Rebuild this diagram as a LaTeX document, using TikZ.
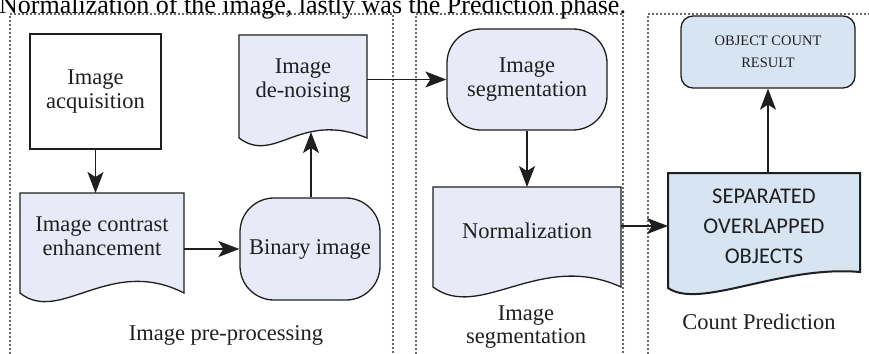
\documentclass[tikz,border=0pt]{standalone}
\usepackage{fontspec}
\setmainfont{Liberation Serif}
\newfontfamily\calib{Carlito}
\usetikzlibrary{arrows.meta}
\definecolor{lb}{HTML}{E8EBF7}
\definecolor{lbb}{HTML}{D7E4F2}
\definecolor{ink}{HTML}{1F1F1F}
\begin{document}
\begin{tikzpicture}[x=1pt,y=-1pt,
  frame/.style={draw=ink!90, line width=2.2pt, dash pattern=on 0pt off 4pt, line cap=round},
  nt/.style={font=\fontsize{22.5}{24}\selectfont, align=center, text=ink, inner sep=0pt},
  plainbox/.style={nt, rectangle, draw=ink, line width=1.3pt, fill=white},
  roundbox/.style={nt, rectangle, rounded corners=34pt, draw=ink, line width=1.3pt, fill=lb},
  docarea/.style={rectangle, inner sep=0pt, outer sep=0pt},
  docpath/.style={draw=ink, line width=1.3pt, fill=lb},
  arr/.style={draw=ink, line width=1.3pt, -{Stealth[length=21pt,width=16pt,inset=5pt]}},
]
\useasboundingbox (0,0) rectangle (869,353);
\clip (0,0) rectangle (869,353);
\fill[white] (0,0) rectangle (869,353);

% caption line cut at top
\node[anchor=base west, font=\fontsize{26}{28}\selectfont, inner sep=0pt, text=black] (cap) at (-1,13.5)
  {Normalization of the image, lastly was the Prediction phase.};

% dotted frames
\draw[frame] (10,365) -- (10,14) -- (393,14) -- (393,365);
\draw[frame] (416,365) -- (416,14) -- (623,14) -- (623,365);
\draw[frame] (648,365) -- (648,14) -- (880,14);

% plain and rounded boxes
\node[plainbox, minimum width=131pt, minimum height=115pt] (acq) at (95.5,91.5) {Image\\acquisition};
\node[roundbox, minimum width=140pt, minimum height=102pt] (bin) at (310,249) {Binary image};
\node[roundbox, minimum width=160pt, minimum height=101pt] (seg) at (527,79.5) {Image\\segmentation};
\node[rectangle, rounded corners=12pt, draw=ink, line width=1.3pt, fill=lbb, inner sep=0pt,
      minimum width=174pt, minimum height=72pt, align=center, text=ink,
      font=\fontsize{14.5}{22}\selectfont] (obj) at (768,52) {OBJECT COUNT\\RESULT};

% document shapes
\node[docarea, minimum width=128pt, minimum height=103pt] (den) at (303,86.5) {};
\path[docpath] (den.north west) -- (den.north east) -- (den.south east)
  .. controls (300,110) and (275,165) .. (den.south west) -- cycle;
\node[nt] (denT) at (303,81) {Image\\de-noising};

\node[docarea, minimum width=164pt, minimum height=100pt] (con) at (102,243) {};
\path[docpath] (con.north west) -- (con.north east) -- (con.south east)
  .. controls (110,255) and (60,325) .. (con.south west) -- cycle;
\node[nt] (conT) at (102,236) {Image contrast\\enhancement};

\node[docarea, minimum width=188pt, minimum height=100pt] (nor) at (527,237) {};
\path[docpath] (nor.north west) -- (nor.north east) -- (nor.south east)
  .. controls (540,250) and (480,322) .. (nor.south west) -- cycle;
\node[nt] (norT) at (527,231) {Normalization};

\node[docarea, minimum width=192pt, minimum height=115pt] (sep) at (764,230.5) {};
\path[draw=ink, line width=2pt, fill=lbb] (sep.north west) -- (sep.north east) -- (860,272)
  .. controls (780,265) and (700,310) .. (sep.south west) -- cycle;
\node[nt, font=\calib\fontsize{22.5}{30}\selectfont] (sepT) at (764,226) {SEPARATED\\OVERLAPPED\\OBJECTS};

% phase labels
\node[nt] (l1) at (226,335) {Image pre-processing};
\node[nt, font=\fontsize{22.5}{23}\selectfont] (l2) at (526,327) {Image\\segmentation};
\node[nt] (l3) at (759,322) {Count Prediction};

% connectors
\coordinate (denb) at (311,132);
\draw[arr] (acq.south) -- (acq.south |- con.north);
\draw[arr] (con.east |- bin.west) -- (bin.west);
\draw[arr] (bin.north -| denb) -- (denb);
\draw[arr] (den.east |- seg.west) -- (seg.west);
\draw[arr] (seg.south) -- (seg.south |- nor.north);
\draw[arr] (nor.east |- sepT.center) -- (sep.west |- sepT.center);
\draw[arr] (obj.south |- sep.north) -- (obj.south);
\end{tikzpicture}
\end{document}
